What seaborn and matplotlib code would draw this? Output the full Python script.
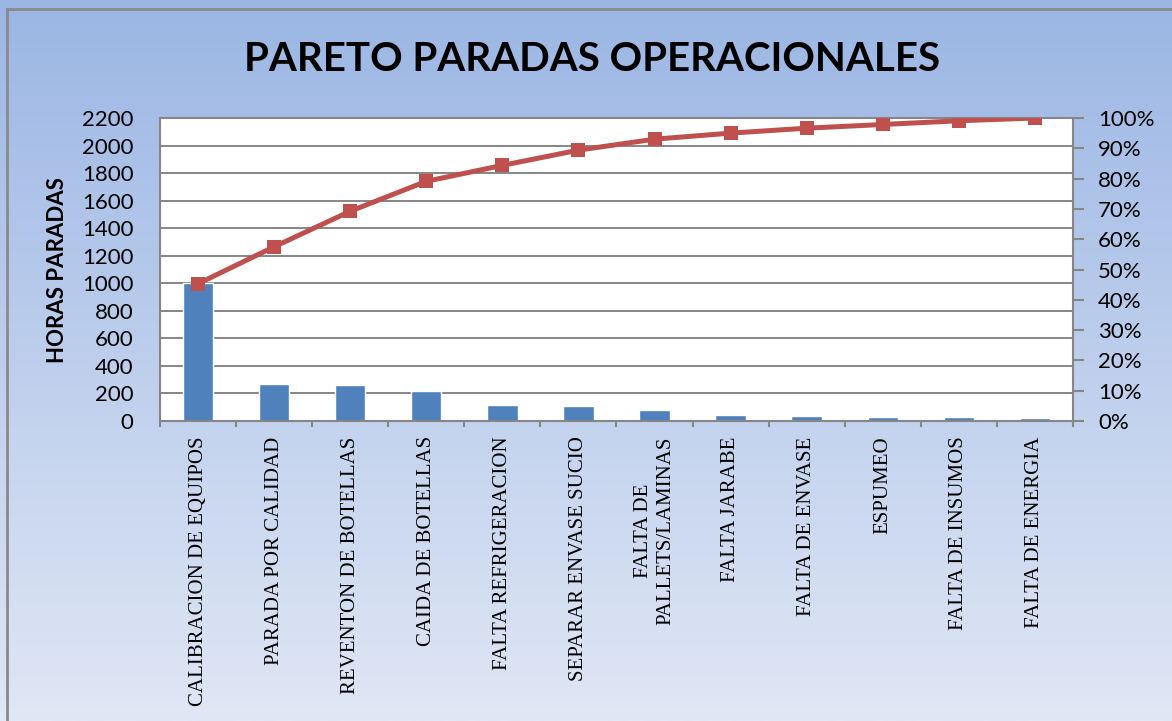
import numpy as np
import pandas as pd
import matplotlib
matplotlib.use("Agg")
import matplotlib.pyplot as plt
import seaborn as sns
from matplotlib.ticker import PercentFormatter, MultipleLocator, FixedLocator
from matplotlib.patches import Rectangle

# Data
causas = ["CALIBRACION DE EQUIPOS", "PARADA POR CALIDAD", "REVENTON DE BOTELLAS",
          "CAIDA DE BOTELLAS", "FALTA REFRIGERACION", "SEPARAR ENVASE SUCIO",
          "FALTA DE\nPALLETS/LAMINAS", "FALTA JARABE", "FALTA DE ENVASE",
          "ESPUMEO", "FALTA DE INSUMOS", "FALTA DE ENERGIA"]
horas = [1000, 269, 259, 218, 116, 111, 80, 44, 36, 27, 27, 20]

df = pd.DataFrame({"causa": causas, "horas": horas})
df["pos"] = np.arange(len(df))
df["acum"] = df["horas"].cumsum() / df["horas"].sum()

sns.set_style("white")
plt.rcParams['font.family'] = ['Lato', 'DejaVu Sans']
plt.rcParams['text.color'] = 'black'
plt.rcParams['axes.labelcolor'] = 'black'

fig = plt.figure(figsize=(11.72, 7.21), dpi=100)

# gradient background + border
bg = fig.add_axes([0, 0, 1, 1], zorder=-10)
top = np.array([155, 182, 228]) / 255
bot = np.array([224, 231, 245]) / 255
t = np.linspace(0, 1, 256)[:, None]
grad = (top * (1 - t) + bot * t)[:, None, :]
bg.imshow(grad, aspect="auto", extent=[0, 1, 0, 1], origin="upper")
bg.add_patch(Rectangle((0.006, -0.1), 1.2, 1.088, fill=False, edgecolor="#8a8a8a",
                       lw=2, zorder=3, clip_on=False))
bg.set_xlim(0, 1)
bg.set_ylim(0, 1)
bg.axis("off")

ax1 = fig.add_axes([0.1365, 0.4161, 0.779, 0.4202])
ax1.set_facecolor("white")
sns.barplot(data=df, x="pos", y="horas", native_scale=True, color="#4F81BD",
            width=0.4, saturation=1, ax=ax1, zorder=2)
ax1.set_xlim(-0.5, len(df) - 0.5)
ax1.set_ylim(0, 2200)
ax1.yaxis.set_major_locator(MultipleLocator(200))
ax1.set_axisbelow(True)
ax1.grid(axis="y", color="#868686", lw=1.4)
ax1.grid(axis="x", visible=False)
for s in ax1.spines.values():
    s.set_color("#868686")
    s.set_linewidth(1.5)
ax1.set_xlabel("")
ax1.set_ylabel("HORAS PARADAS", fontsize=16, fontweight="bold", labelpad=10)
ax1.tick_params(axis="y", labelsize=16, length=0, pad=19, labelcolor="black")

ax2 = ax1.twinx()
sns.lineplot(data=df, x="pos", y="acum", color="#C0504D", lw=3.6, marker="s",
             markersize=10, markeredgewidth=0, ax=ax2, zorder=5)
ax2.set_ylim(0, 1)
ax2.yaxis.set_major_locator(MultipleLocator(0.1))
ax2.yaxis.set_major_formatter(PercentFormatter(1.0, decimals=0))
ax2.tick_params(axis="y", labelsize=16, length=8, width=1.5, color="#868686",
                direction="out", pad=10, labelcolor="black")
ax2.set_ylabel("")
for s in ax2.spines.values():
    s.set_visible(False)

ax1.set_xticks(df["pos"])
ax1.set_xticklabels(df["causa"], rotation=90, va="top", ha="center",
                    multialignment="center", family=["Liberation Serif"], fontsize=15)
ax1.xaxis.set_minor_locator(FixedLocator(np.arange(-0.5, len(df), 1)))
ax1.tick_params(axis="x", which="major", length=0, pad=11, labelcolor="black")
ax1.tick_params(axis="x", which="minor", length=4, width=1.5, color="#868686",
                direction="out", bottom=True)

fig.text(0.505, 0.918, "PARETO PARADAS OPERACIONALES", ha="center", va="center",
         fontsize=29, fontweight="bold", color="black")

fig.savefig("out.png", dpi=100)
